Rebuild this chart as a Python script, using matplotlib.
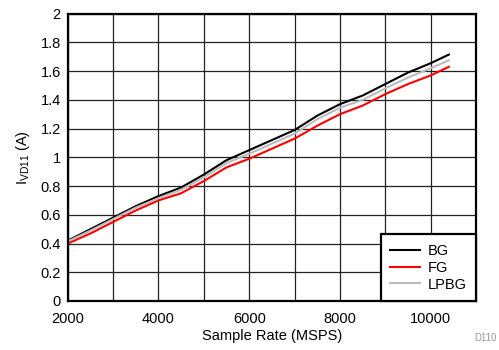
import matplotlib.pyplot as plt
from matplotlib.ticker import MultipleLocator, FormatStrFormatter

plt.rcParams['font.family'] = ['Liberation Sans', 'DejaVu Sans']

## Data
rate = [2000, 2500, 3000, 3500, 4000, 4500, 5000, 5500, 6000, 6500,
        7000, 7500, 8000, 8500, 9000, 9500, 10000, 10400]
bg = [0.42, 0.50, 0.58, 0.66, 0.73, 0.79, 0.88, 0.98, 1.05, 1.12,
      1.19, 1.29, 1.37, 1.43, 1.51, 1.59, 1.655, 1.715]
fg = [0.40, 0.47, 0.55, 0.63, 0.70, 0.75, 0.835, 0.93, 0.99, 1.06,
      1.13, 1.22, 1.30, 1.36, 1.44, 1.51, 1.57, 1.63]
lpbg = [0.415, 0.49, 0.57, 0.65, 0.715, 0.775, 0.86, 0.96, 1.025, 1.095,
        1.165, 1.265, 1.345, 1.40, 1.48, 1.555, 1.62, 1.675]

fig = plt.figure(figsize=(4.99, 3.5), dpi=100)
ax = fig.add_axes([0.1357, 0.14, 0.8183, 0.821])

ax.plot(rate, bg, color='black', lw=1.5, label='BG')
ax.plot(rate, fg, color='#ff0000', lw=1.5, label='FG')
ax.plot(rate, lpbg, color='#bbbbbb', lw=1.5, label='LPBG')

ax.set_xlim(2000, 11000)
ax.set_ylim(0, 2)
ax.xaxis.set_major_locator(MultipleLocator(2000))
ax.xaxis.set_minor_locator(MultipleLocator(1000))
ax.yaxis.set_major_locator(MultipleLocator(0.2))
ax.yaxis.set_major_formatter(FormatStrFormatter('%g'))
ax.grid(True, which='both', color='#222222', lw=0.9)
ax.set_axisbelow(True)
ax.tick_params(which='both', length=0, labelsize=10.5)
ax.tick_params(axis='x', pad=8)
ax.tick_params(axis='y', pad=5)

for s in ax.spines.values():
    s.set_linewidth(1.6)

ax.set_xlabel('Sample Rate (MSPS)', fontsize=10.5, labelpad=2)
ax.set_ylabel('I$_{\\mathregular{VD11}}$ (A)', fontsize=10.5, labelpad=6)

leg = ax.legend(loc='lower right', borderaxespad=0, fancybox=False,
                fontsize=10.5, handlelength=2.0, labelspacing=0.2,
                borderpad=0.65, handletextpad=0.55)
leg.get_frame().set_edgecolor('black')
leg.get_frame().set_linewidth(1.6)
leg.get_frame().set_alpha(1)

fig.text(0.996, 0.02, 'D110', ha='right', va='bottom', fontsize=7, color='#999999')

fig.savefig('out.png', dpi=100)
